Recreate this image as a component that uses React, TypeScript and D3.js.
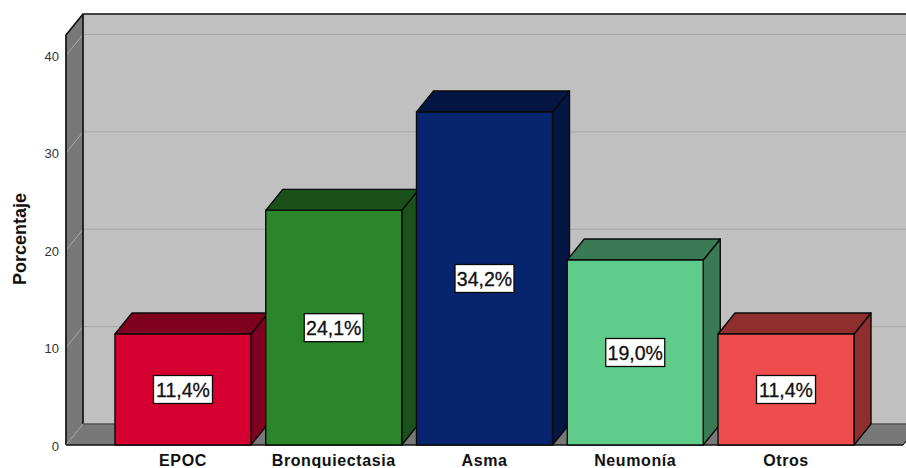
import * as d3 from "d3"

const categories = ["EPOC", "Bronquiectasia", "Asma", "Neumonía", "Otros"]
const values = [11.4, 24.1, 34.2, 19.0, 11.4]
const frontColors = ["#d60030", "#2b852b", "#06256e", "#5fcc8c", "#ef4d4d"]
const sideColors = ["#7f001f", "#1a501a", "#041644", "#3a7a55", "#8f2e2e"]
const ticks = [0, 10, 20, 30, 40]

const W = 906
const H = 468
const DX = 17
const DY = -21
const FONT = "'Liberation Sans', Arial, sans-serif"

const x = d3.scaleBand<string>().domain(categories).range([107.6, 861.4]).paddingInner(0.098).paddingOuter(0.049)
const y = d3.scaleLinear().domain([0, 40]).range([445, 55.5])
const left = 66
const right = 903
const top = 35

const poly = (pts: [number, number][]) => d3.line()(pts) + "Z"
const fmt = (v: number) => v.toFixed(1).replace(".", ",") + "%"

export default function App() {
  const bw = x.bandwidth()
  return (
    <svg width={W} height={H} style={{ position: "fixed", left: 0, top: 0, display: "block", background: "#fff" }}>
      {/* back wall */}
      <rect x={left + DX} y={top + DY} width={W - left - DX + 2} height={y(0) - top} fill="#c0c0c0" />
      {/* left wall */}
      <path d={poly([[left, top], [left + DX, top + DY], [left + DX, y(0) + DY], [left, y(0)]])} fill="#787878" />
      {/* floor */}
      <path d={poly([[left, y(0)], [left + DX, y(0) + DY], [W + 2, y(0) + DY], [W + 2, y(0) - 4], [right, y(0)]])} fill="#787878" />

      {ticks.map(t => (
        <g key={t}>
          {t > 0 && <line x1={left + DX} x2={W} y1={y(t) + DY} y2={y(t) + DY} stroke="#a8a8a8" strokeWidth={1} />}
          <line x1={left} x2={left + DX} y1={y(t)} y2={y(t) + DY} stroke="#a8a8a8" strokeWidth={1} />
          <text x={59} y={y(t) + 5.5} textAnchor="end" fontFamily={FONT} fontSize={13} fill="#333">{t}</text>
        </g>
      ))}

      {/* frame */}
      <path d={`M${left},${y(0)}V${top}L${left + DX},${top + DY}H${W}`} fill="none" stroke="#111" strokeWidth={1.7} />
      <line x1={left + DX} x2={left + DX} y1={top + DY} y2={y(0) + DY} stroke="#111" strokeWidth={1.7} />
      <line x1={left + DX} x2={W} y1={y(0) + DY} y2={y(0) + DY} stroke="#555" strokeWidth={1.5} />
      <line x1={left} x2={left + DX} y1={y(0)} y2={y(0) + DY} stroke="#999" strokeWidth={1} />
      <line x1={left} x2={right} y1={y(0)} y2={y(0)} stroke="#111" strokeWidth={1.5} />
      <line x1={right} x2={W} y1={y(0)} y2={y(0) - 4} stroke="#111" strokeWidth={1} />

      {categories.map((c, i) => {
        const x0 = x(c)!
        const x1 = x0 + bw
        const yt = y(values[i])
        const yb = y(0)
        const cx = x0 + bw / 2
        const cy = (yt + yb) / 2
        const lw = 59
        const lh = 28
        return (
          <g key={c}>
            <g stroke="#0a0a0a" strokeWidth={1.4} strokeLinejoin="round">
              <path d={poly([[x1, yt], [x1 + DX, yt + DY], [x1 + DX, yb + DY], [x1, yb]])} fill={sideColors[i]} />
              <path d={poly([[x0, yt], [x0 + DX, yt + DY], [x1 + DX, yt + DY], [x1, yt]])} fill={sideColors[i]} />
              <rect x={x0} y={yt} width={bw} height={yb - yt} fill={frontColors[i]} />
            </g>
            <rect x={cx - lw / 2} y={cy - lh / 2} width={lw} height={lh} fill="#fff" stroke="#0a0a0a" strokeWidth={1.3} />
            <text x={cx} y={cy + 7.5} textAnchor="middle" fontFamily={FONT} fontSize={19.5} stroke="#111" strokeWidth={0.3} fill="#111">{fmt(values[i])}</text>
            <text x={cx} y={466} textAnchor="middle" fontFamily={FONT} fontSize={16} fontWeight={700} letterSpacing={0.6} fill="#111">{c}</text>
          </g>
        )
      })}

      <text transform="translate(25.5,239) rotate(-90)" textAnchor="middle" fontFamily={FONT} fontSize={18} fontWeight={700} fill="#111">Porcentaje</text>
    </svg>
  )
}
